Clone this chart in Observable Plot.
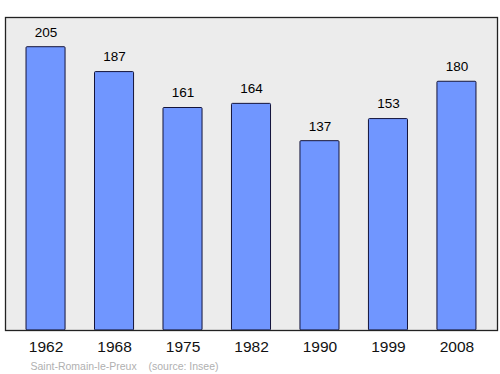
<!DOCTYPE html>
<html>
<head>
<meta charset="utf-8">
<script src="https://cdn.jsdelivr.net/npm/d3@7"></script>
<script src="https://cdn.jsdelivr.net/npm/@observablehq/plot@0.6"></script>
<style>
  body { margin: 0; background: #fff; }
  svg { display: block; }
</style>
</head>
<body>
<div id="chart"></div>
<script>
const years = ["1962", "1968", "1975", "1982", "1990", "1999", "2008"];
const population = [205, 187, 161, 164, 137, 153, 180];
const place = "Saint-Romain-le-Preux";
const source = "(source: Insee)";

const data = years.map((y, i) => ({year: y, value: population[i]}));

const chart = Plot.plot({
  width: 500,
  height: 374,
  marginLeft: 5,
  marginRight: 3,
  marginTop: 17,
  marginBottom: 44,
  style: {fontFamily: "'Liberation Sans', Arial, sans-serif", background: "#fff"},
  x: {domain: years, paddingInner: 0.43, paddingOuter: 0.307, round: false, label: null},
  y: {domain: [0, 226.5], axis: null},
  marks: [
    Plot.frame({fill: "#ececec"}),
    Plot.barY(data, {x: "year", y: "value", fill: "#7096ff", stroke: "#14143a", strokeWidth: 1, rx: 1}),
    Plot.text(data, {x: "year", y: "value", text: d => String(d.value), dy: -15, fontSize: 13.5, fill: "#000"}),
    Plot.frame({stroke: "#222", strokeWidth: 1.3}),
    Plot.axisX({tickSize: 0, tickPadding: 10, fontSize: 15.5, label: null, fill: "#111"}),
    Plot.text([place], {frameAnchor: "bottom-left", text: d => d, dx: 25, dy: 39, fontSize: 10.5, fill: "#b0b0b0", textAnchor: "start"}),
    Plot.text([source], {frameAnchor: "bottom-left", text: d => d, dx: 143, dy: 39, fontSize: 10.5, fill: "#b0b0b0", textAnchor: "start"})
  ]
});
document.getElementById("chart").appendChild(chart);
</script>
</body>
</html>
